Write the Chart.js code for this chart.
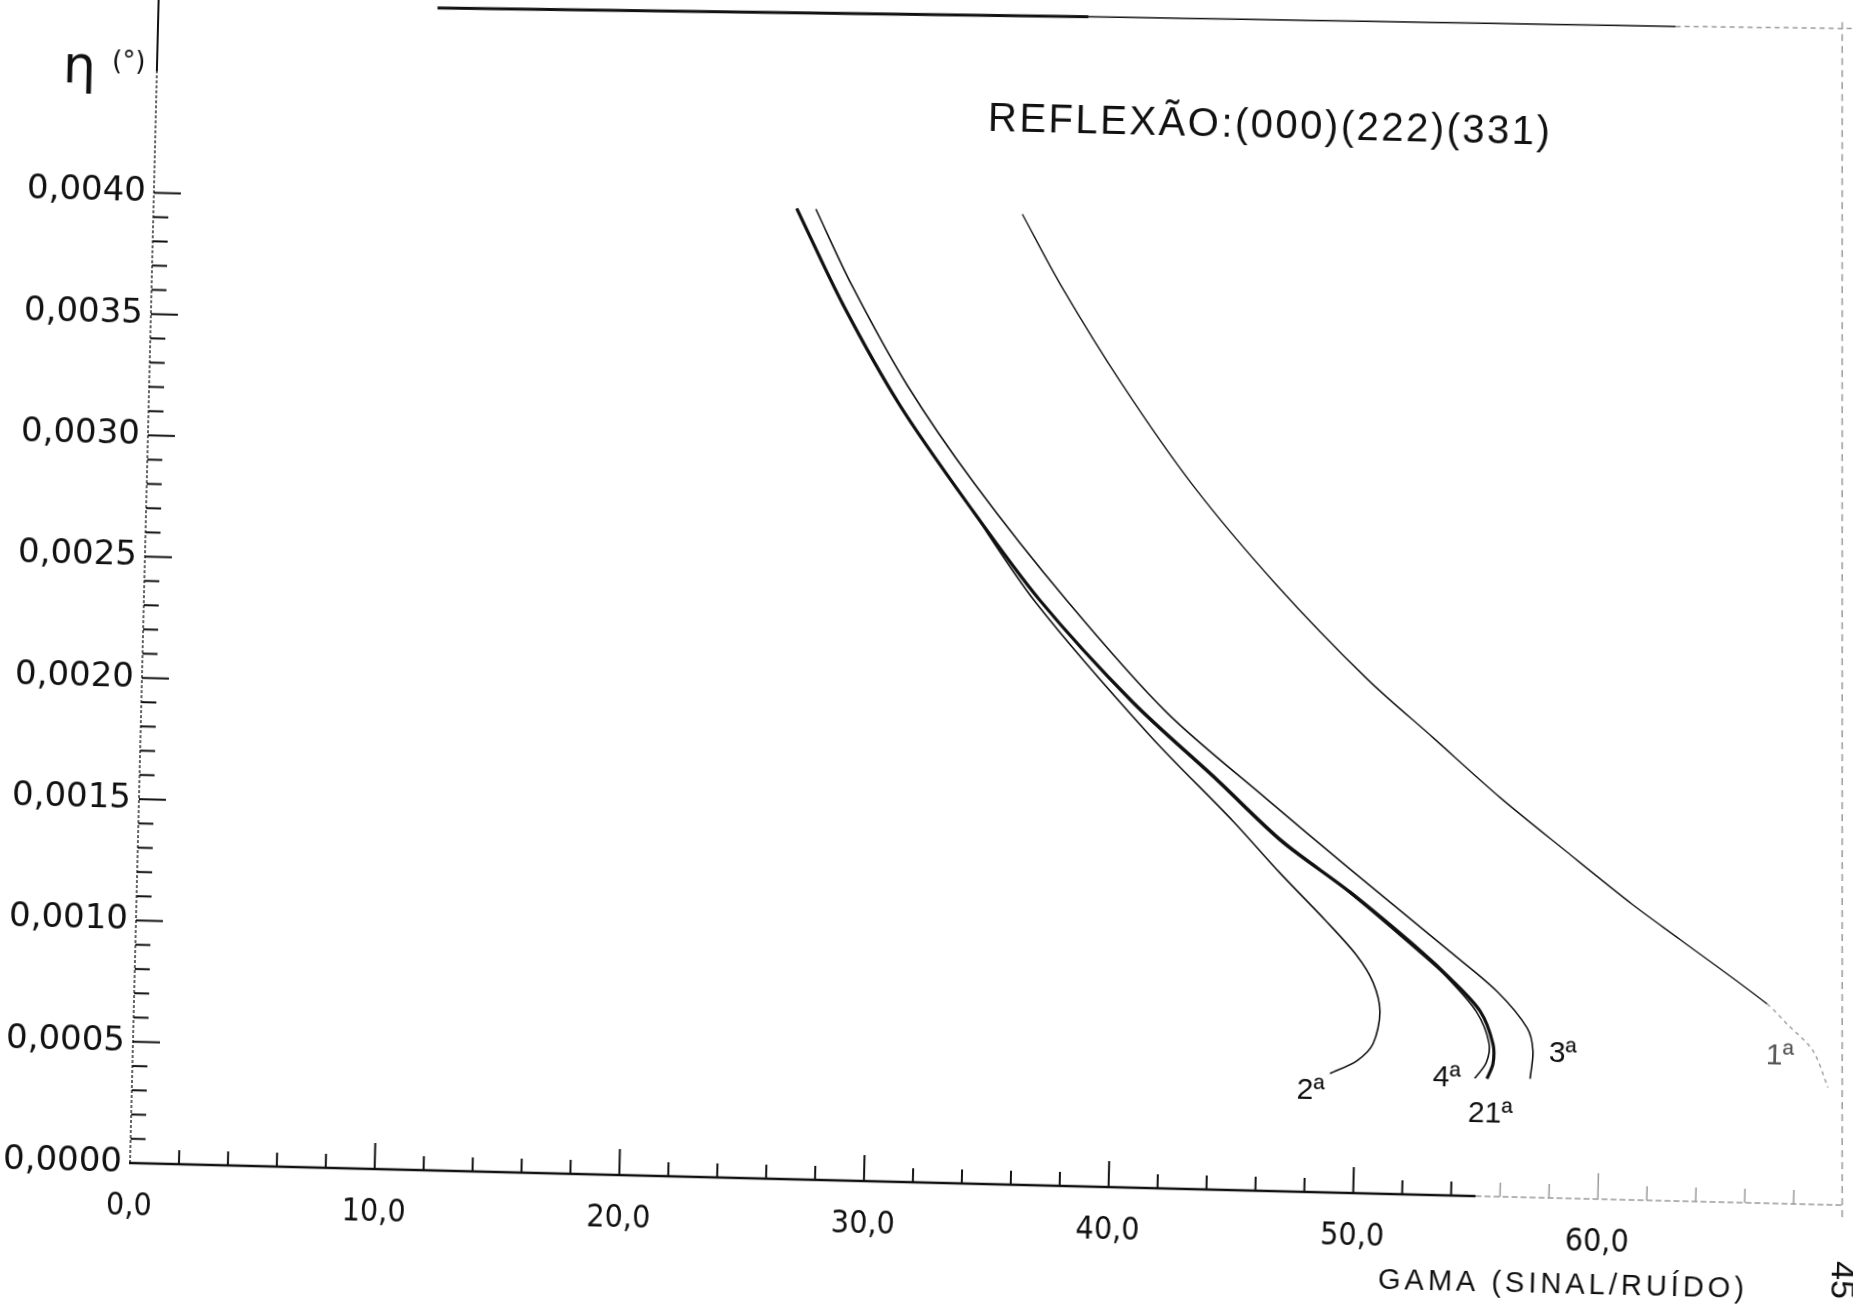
<!DOCTYPE html>
<html>
<head>
<meta charset="utf-8">
<script src="https://cdn.jsdelivr.net/npm/chart.js@4"></script>
<style>
  html, body { margin: 0; padding: 0; background: #fff; width: 1853px; height: 1311px; overflow: hidden; }
  /* the scanned sheet sits slightly skewed, so the whole drawing is turned about the axis origin */
  #wrap { position: absolute; left: -30px; top: -30px; width: 1913px; height: 1371px;
          transform-origin: 160px 1193px; transform: rotate(1.41deg); }
  canvas { display: block; }
</style>
</head>
<body>
<div id="wrap"><canvas id="chart" width="1913" height="1371"></canvas></div>
<script>
// GAMA (sinal/ruido) vs eta (graus), one curve per reflexion order
const gama1 = [35.5, 37.15, 39.74, 42.74, 46.24, 50.05, 52.8, 55.6, 58.39, 61.14, 63.1, 66.72, 67.55, 68.64, 69.29];
const eta1  = [0.00400, 0.00371, 0.00331, 0.00290, 0.00250, 0.00212, 0.001885, 0.001645, 0.001427, 0.001216, 0.001078, 0.000821, 0.000741, 0.000633, 0.000483];

const gama3 = [27.06, 28.61, 30.96, 33.83, 37.71, 41.91, 46.08, 49.54, 53.71, 55.67, 56.94, 57.2, 57.11];
const eta3  = [0.00400, 0.003689, 0.003285, 0.002883, 0.002412, 0.00196, 0.001614, 0.001335, 0.001005, 0.000846, 0.000698, 0.000604, 0.000489];

const gama2 = [26.28, 28.26, 30.69, 33.57, 36.45, 41.24, 44.72, 46.7, 48.6, 49.9, 50.6, 50.91, 50.66, 50.02, 48.93];
const eta2  = [0.00400, 0.00361, 0.00320, 0.00280, 0.00240, 0.001864, 0.00152, 0.00131, 0.00112, 0.00098, 0.00087, 0.00075, 0.000617, 0.000546, 0.00049];

const gama4 = [26.28, 28.26, 30.69, 33.57, 36.61, 40.45, 43.95, 46.7, 49.5, 52.45, 53.6, 54.85, 55.4, 55.3, 54.85];
const eta4  = [0.00400, 0.00361, 0.00320, 0.00280, 0.00241, 0.00200, 0.00169, 0.00144, 0.00124, 0.00100, 0.00090, 0.00076, 0.00063, 0.00055, 0.000485];

const gama21 = [26.28, 28.26, 30.69, 33.57, 36.61, 40.51, 44.02, 46.78, 49.57, 52.57, 53.74, 55.0, 55.56, 55.58, 55.35];
const eta21  = [0.00400, 0.00361, 0.00320, 0.00280, 0.00241, 0.00200, 0.00169, 0.00144, 0.00124, 0.00100, 0.000895, 0.000763, 0.000629, 0.000547, 0.000485];

const gamaTickLabels = ['0,0', '10,0', '20,0', '30,0', '40,0', '50,0', '60,0'];
const etaTickLabels  = ['0,0000', '0,0005', '0,0010', '0,0015', '0,0020', '0,0025', '0,0030', '0,0035', '0,0040'];

const INK = '#111';
const FAINT = '#9a9a9a';

// where each curve name sits, in pixels from the curve's last point
const labelOffsets = { '1ª': [-49, -30], '2ª': [-19, 18], '3ª': [32, -26], '4ª': [-28, 0], '21ª': [4, 35] };

function toPoints(xs, ys) {
  return xs.map((x, i) => ({ x: x, y: ys[i] }));
}

const fadedTail = ctx => ctx.p0.parsed.x >= 66.5;

const datasets = [
  { label: '1ª', data: toPoints(gama1, eta1), borderWidth: 1.4,
    segment: { borderColor: c => fadedTail(c) ? FAINT : undefined, borderDash: c => fadedTail(c) ? [4, 4] : undefined } },
  { label: '3ª', data: toPoints(gama3, eta3), borderWidth: 1.6 },
  { label: '2ª', data: toPoints(gama2, eta2), borderWidth: 1.6 },
  { label: '4ª', data: toPoints(gama4, eta4), borderWidth: 1.6 },
  { label: '21ª', data: toPoints(gama21, eta21), borderWidth: 3.2 }
].map(d => Object.assign({ showLine: true, pointRadius: 0, borderColor: INK, tension: 0.3, fill: false }, d));

function seg(ctx, x0, y0, x1, y1) {
  ctx.beginPath();
  ctx.moveTo(x0, y0);
  ctx.lineTo(x1, y1);
  ctx.stroke();
}

// axes, tick marks and lettering the way the drawing office did them
const inkPlugin = {
  id: 'ink',
  afterDraw(chart) {
    const ctx = chart.ctx;
    const xs = chart.scales.x, ys = chart.scales.y;
    const X = v => xs.getPixelForValue(v);
    const Y = v => ys.getPixelForValue(v);
    const x0 = X(0), y0 = Y(0);

    ctx.save();
    ctx.strokeStyle = INK;
    ctx.fillStyle = INK;

    // y axis: dotted over the scale, solid above it
    ctx.lineWidth = 1.3;
    ctx.setLineDash([3, 2]);
    seg(ctx, x0, y0, x0, Y(0.0045));
    ctx.setLineDash([]);
    ctx.lineWidth = 2;
    seg(ctx, x0, Y(0.0045), x0, ys.top - 25);

    // x axis: solid, then fading out past 55
    ctx.lineWidth = 2.5;
    seg(ctx, x0 - 1, y0, X(55), y0);
    ctx.strokeStyle = FAINT;
    ctx.lineWidth = 1.5;
    ctx.setLineDash([6, 3]);
    seg(ctx, X(55), y0, X(70), y0);
    ctx.setLineDash([]);

    // y ticks point into the plot
    ctx.lineWidth = 2;
    ctx.strokeStyle = INK;
    ys.ticks.forEach(t => {
      const v = t.value;
      if (v <= 1e-9 || v > 0.00400001) return;
      const major = Math.abs(v / 0.0005 - Math.round(v / 0.0005)) < 1e-6;
      seg(ctx, x0, Y(v), x0 + (major ? 27 : 15), Y(v));
    });

    // x ticks
    xs.ticks.forEach(t => {
      const v = t.value;
      if (v <= 0 || v >= 70) return;
      ctx.strokeStyle = v > 55 ? FAINT : INK;
      ctx.lineWidth = v > 55 ? 1.5 : 2;
      seg(ctx, X(v), y0, X(v), y0 - (v % 10 === 0 ? 26 : 14));
    });

    // sheet edges: the right one stands upright on the page, not on the skewed axes
    ctx.strokeStyle = FAINT;
    ctx.lineWidth = 1.5;
    ctx.setLineDash([7, 5]);
    const rightTop = ys.top - 20;
    seg(ctx, X(70), y0 + 12, X(70) - (y0 + 12 - rightTop) * Math.tan(1.41 * Math.PI / 180), rightTop);
    ctx.setLineDash([]);
    ctx.strokeStyle = INK;
    ctx.lineWidth = 3;
    seg(ctx, X(11.4), Y(0.00479), X(38), Y(0.00482));
    ctx.lineWidth = 1.5;
    seg(ctx, X(38), Y(0.00482), X(62), Y(0.00484));
    ctx.strokeStyle = FAINT;
    ctx.setLineDash([5, 4]);
    seg(ctx, X(62), Y(0.00484), X(70), Y(0.00485));
    ctx.setLineDash([]);

    // curve names beside the curve ends
    ctx.font = "30px 'Liberation Sans', sans-serif";
    ctx.textAlign = 'center';
    ctx.textBaseline = 'middle';
    chart.data.datasets.forEach((ds, i) => {
      const pts = chart.getDatasetMeta(i).data;
      const last = pts[pts.length - 1];
      const off = labelOffsets[ds.label];
      ctx.fillStyle = ds.label === '1ª' ? '#555' : INK;
      ctx.fillText(ds.label, last.x + off[0], last.y + off[1]);
    });
    ctx.fillStyle = INK;

    // title
    ctx.textAlign = 'left';
    ctx.textBaseline = 'alphabetic';
    ctx.letterSpacing = '2.5px';
    ctx.font = "40px 'Liberation Sans', sans-serif";
    ctx.fillText('REFLEXÃO:(000)(222)(331)', X(34.0), Y(0.00434));

    // axis names
    ctx.letterSpacing = '4px';
    ctx.font = "29px 'Liberation Sans', sans-serif";
    ctx.fillText('GAMA (SINAL/RUÍDO)', X(51.1), y0 + 95);
    ctx.letterSpacing = '0px';
    ctx.font = "52px 'DejaVu Sans', sans-serif";
    ctx.fillText('η', x0 - 94, Y(0.00441) - 9);
    ctx.font = "26px 'DejaVu Sans', sans-serif";
    ctx.fillText('(°)', x0 - 45, Y(0.00447) - 8);

    // page number, written sideways
    ctx.save();
    ctx.translate(X(70), y0 + 75);
    ctx.rotate(Math.PI / 2);
    ctx.font = "34px 'Liberation Sans', sans-serif";
    ctx.textAlign = 'center';
    ctx.textBaseline = 'middle';
    ctx.fillText('45', 0, 0);
    ctx.restore();

    ctx.restore();
  }
};

new Chart(document.getElementById('chart').getContext('2d'), {
  type: 'scatter',
  data: { datasets: datasets },
  options: {
    responsive: false,
    animation: false,
    layout: { padding: { left: 0, right: 40, top: 21, bottom: 0 } },
    plugins: { legend: { display: false }, tooltip: { enabled: false } },
    scales: {
      x: {
        type: 'linear', min: 0, max: 70,
        afterFit: s => { s.height = 178; },
        grid: { display: false, drawTicks: false },
        border: { display: false },
        ticks: {
          stepSize: 2, autoSkip: false, maxRotation: 0, minRotation: 0, padding: 24,
          color: INK,
          font: { family: "'Liberation Sans Narrow', 'DejaVu Sans Condensed', sans-serif", size: 32 },
          callback: v => (v % 10 === 0 && gamaTickLabels[v / 10]) ? gamaTickLabels[v / 10] : ''
        }
      },
      y: {
        type: 'linear', min: 0, max: 0.0048,
        afterFit: s => { s.width = 160; },
        grid: { display: false, drawTicks: false },
        border: { display: false },
        ticks: {
          stepSize: 0.0001, autoSkip: false, maxTicksLimit: 200, padding: 8,
          color: INK,
          font: { family: "'DejaVu Sans', sans-serif", size: 34 },
          callback: v => {
            const k = Math.round(v / 0.0005);
            return (Math.abs(v - k * 0.0005) < 1e-9 && etaTickLabels[k]) ? etaTickLabels[k] : '';
          }
        }
      }
    }
  },
  plugins: [inkPlugin]
});
</script>
</body>
</html>
